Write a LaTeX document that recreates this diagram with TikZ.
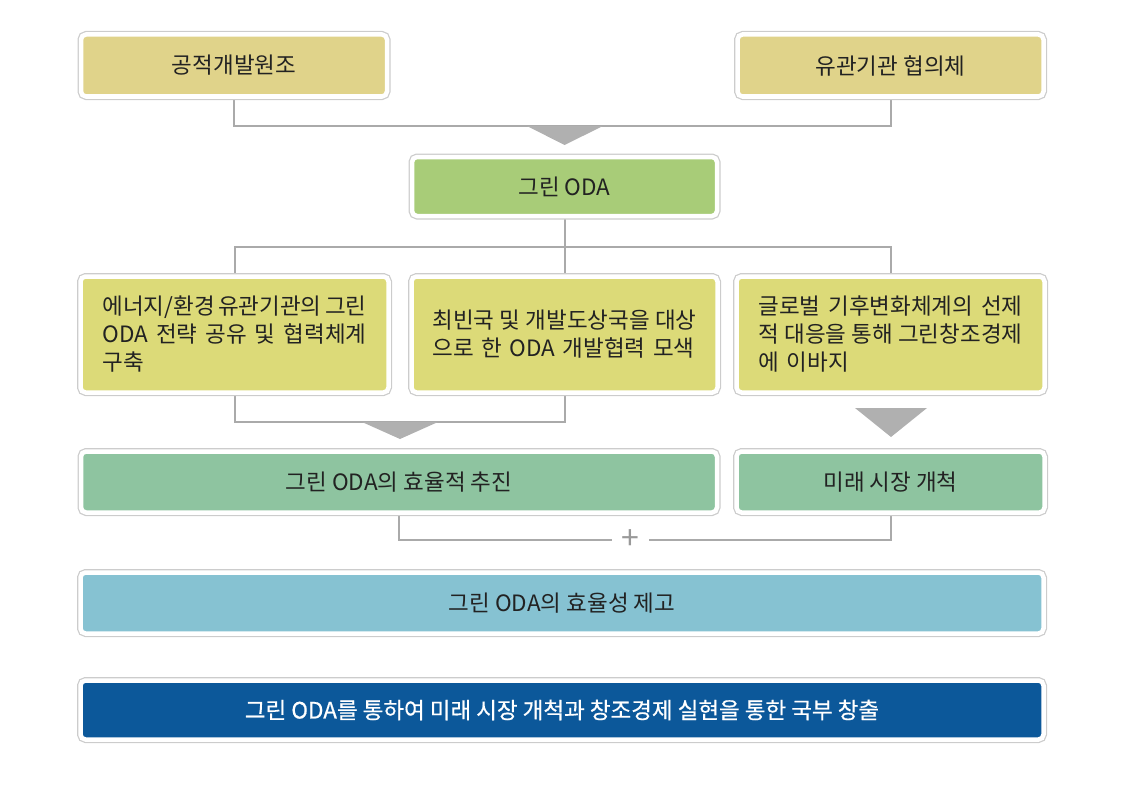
\documentclass[tikz,border=0pt]{standalone}
\usepackage{fontspec}
\setmainfont{Noto Sans CJK KR}
\newfontfamily\boldish{Noto Sans CJK KR}[FakeBold=0.6]
\usetikzlibrary{backgrounds}
\definecolor{topc}{HTML}{E0D38A}
\definecolor{odac}{HTML}{A8CC78}
\definecolor{midc}{HTML}{DCDA78}
\definecolor{mintc}{HTML}{8EC4A0}
\definecolor{lbluec}{HTML}{86C2D2}
\definecolor{dbluec}{HTML}{0C589A}
\definecolor{framec}{HTML}{CCCCCC}
\definecolor{linec}{HTML}{AAAAAA}
\definecolor{plusc}{HTML}{999999}
\definecolor{tric}{HTML}{B0B0B0}
\definecolor{textc}{HTML}{222222}
\tikzset{
  boxbase/.style={rectangle, rounded corners=5pt, fill=#1, draw=white, line width=4.5pt,
    preaction={draw=framec, line width=7pt}, inner sep=0pt, text=textc,
    font=\fontsize{22.5}{28}\selectfont, align=center},
  conn/.style={draw=linec, line width=2pt},
  tri/.style={fill=tric},
}
\begin{document}
\begin{tikzpicture}[x=1pt,y=-1pt]
\useasboundingbox (0,0) rectangle (1133,792);
% top
\node[boxbase=topc, minimum width=306, minimum height=62] (b1) at (234,65.5) {공적개발원조};
\node[boxbase=topc, minimum width=306, minimum height=62] (b2) at (890.5,65.5) {유관기관 협의체};
\node[boxbase=odac, minimum width=305, minimum height=59] (oda) at (564.5,186.5) {그린 ODA};
% middle row
\node[boxbase=midc, minimum width=308, minimum height=116, text width=264, align=left] (bA) at (234.5,334.5)
  {에너지/환경\hfill 유관기관의\hfill 그린\\ODA\hfill 전략\hfill 공유\hfill 및\hfill 협력체계\\구축};
\node[boxbase=midc, minimum width=306, minimum height=116, text width=264, align=left] (bB) at (564.5,334.5)
  {최빈국\hfill 및\hfill 개발도상국을\hfill 대상\\으로 한 ODA 개발협력 모색};
\node[boxbase=midc, minimum width=308, minimum height=116, text width=264, align=left] (bC) at (890.5,334.5)
  {글로벌\hfill 기후변화체계의\hfill 선제\\적\hfill 대응을\hfill 통해\hfill 그린창조경제\\에 이바지};
% lower
\node[boxbase=mintc, minimum width=636, minimum height=61] (eff) at (399,482) {그린 ODA의 효율적 추진};
\node[boxbase=mintc, minimum width=308, minimum height=61] (fut) at (890.5,482) {미래 시장 개척};
\node[text=plusc, inner sep=0pt, minimum width=37, minimum height=20, font=\fontsize{32}{32}\selectfont] (plus) at (630.5,540) {+};
\node[boxbase=lbluec, minimum width=963, minimum height=61] (res) at (562,603) {그린 ODA의 효율성 제고};
\node[boxbase=dbluec, minimum width=963, minimum height=59, text=white, font=\boldish\fontsize{22.5}{28}\selectfont] (fin) at (562,710) {그린 ODA를 통하여 미래 시장 개척과 창조경제 실현을 통한 국부 창출};
% connectors
\coordinate (j1) at (564.5,126);
\coordinate (j2) at (564.5,247);
\coordinate (j3) at (400,422);
\begin{scope}[on background layer]
\draw[conn] (b1.south) |- (j1) -| (b2.south);
\draw[conn] (oda.south) -- (bB.north);
\draw[conn] (bA.north) |- (j2) -| (bC.north);
\draw[conn] (bA.south) |- (j3) -| (bB.south);
\draw[conn] (eff.south) |- (plus.west);
\draw[conn] (plus.east) -| (fut.south);
\end{scope}
% triangles
\fill[tri] (527,126) -- (603,126) -- (564.5,145) -- cycle;
\fill[tri] (362,422) -- (438,422) -- (400,439) -- cycle;
\fill[tri] (855,408) -- (927,408) -- (891,437) -- cycle;
\end{tikzpicture}
\end{document}
